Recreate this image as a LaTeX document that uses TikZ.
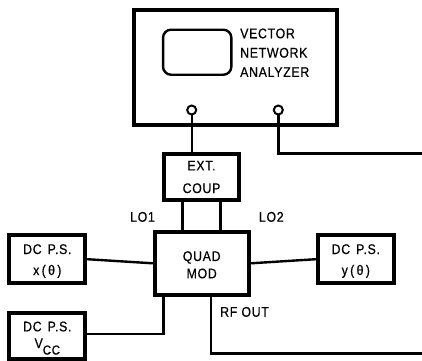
\documentclass[tikz,border=0pt]{standalone}
\usepackage{fontspec}
\setmainfont{Liberation Sans}[FakeStretch=0.88,LetterSpace=5,FakeBold=0.6]
\newcommand{\dcps}{DC\hspace{6pt}P.S.}
\begin{document}
\begin{tikzpicture}[x=1pt,y=-1pt,
  box/.style={draw,line width=3.8pt,inner sep=0pt,rectangle},
  lbl/.style={font=\fontsize{14}{18}\selectfont,inner sep=0pt},
  wire/.style={line width=2.4pt},
  port/.style={draw,circle,line width=2pt,minimum size=9pt,inner sep=0pt,fill=white}]
\useasboundingbox (0,0) rectangle (422,360);
% vector network analyzer
\node[box,minimum width=203pt,minimum height=114.4pt] (vna) at (235.5,67.5) {};
\node[draw,line width=2.4pt,rounded corners=8pt,minimum width=68.3pt,minimum height=45pt] (screen) at (197.2,52.2) {};
\node[lbl,font=\fontsize{14}{19.3}\selectfont,align=left,anchor=north west] (vnatext) at (240,28.3) {VECTOR\\NETWORK\\ANALYZER};
% boxes
\node[box,minimum width=75pt,minimum height=46.6pt,lbl,font=\fontsize{14}{22.6}\selectfont,align=center] (ext) at (201.5,177) {EXT.\\COUP};
\node[box,minimum width=94pt,minimum height=62.7pt,lbl,font=\fontsize{14}{17.3}\selectfont,align=center] (quad) at (201.7,263.3) {\rule{0pt}{12.8pt}QUAD\\MOD};
\node[box,minimum width=76pt,minimum height=47.7pt,lbl,font=\fontsize{14}{21}\selectfont,align=center] (dcx) at (47.3,259.2) {\rule{0pt}{13.5pt}\dcps\\x\,(\,θ\,)};
\node[box,minimum width=75.7pt,minimum height=47.7pt,lbl,font=\fontsize{14}{21}\selectfont,align=center] (dcy) at (355.8,259.2) {\rule{0pt}{13.5pt}\dcps\\y\,(\,θ\,)};
\node[box,minimum width=76pt,minimum height=46pt,lbl,font=\fontsize{14}{16.7}\selectfont,align=center] (dcv) at (47.3,335.7) {\rule{0pt}{14.6pt}\dcps\\V\raisebox{-6.5pt}{\fontsize{13}{13}\selectfont CC}};
% ports
\coordinate (p1) at (191.7,110);
\coordinate (p2) at (278.3,110);
\coordinate (rfend) at (422,353.3);
\coordinate (vnaend) at (422,153.5);
\draw[wire] (p1) -- (p1 |- ext.north);
\draw[wire] (p2) |- (vnaend);
\node[port] (port1) at (p1) {};
\node[port] (port2) at (p2) {};
% ext coupler to quad mod
\draw[wire] ([xshift=-19pt]ext.south) -- ([xshift=-19pt]ext.south |- quad.north);
\draw[wire] ([xshift=19pt]ext.south) -- ([xshift=19pt]ext.south |- quad.north);
\node[lbl,anchor=base] (lo1) at (142.5,221.7) {LO1};
\node[lbl,anchor=base] (lo2) at (271.3,221.7) {LO2};
% dc supplies
\draw[wire] (dcx.east) -- (quad.west);
\draw[wire] (dcy.west) -- (quad.east);
\draw[wire] ([xshift=-38.4pt]quad.south) |- (dcv.east |- 0,334);
% rf out
\draw[wire] ([xshift=9.1pt]quad.south) |- (rfend);
\node[lbl,anchor=base west] (rf) at (220,316.7) {RF OUT};
\end{tikzpicture}
\end{document}
